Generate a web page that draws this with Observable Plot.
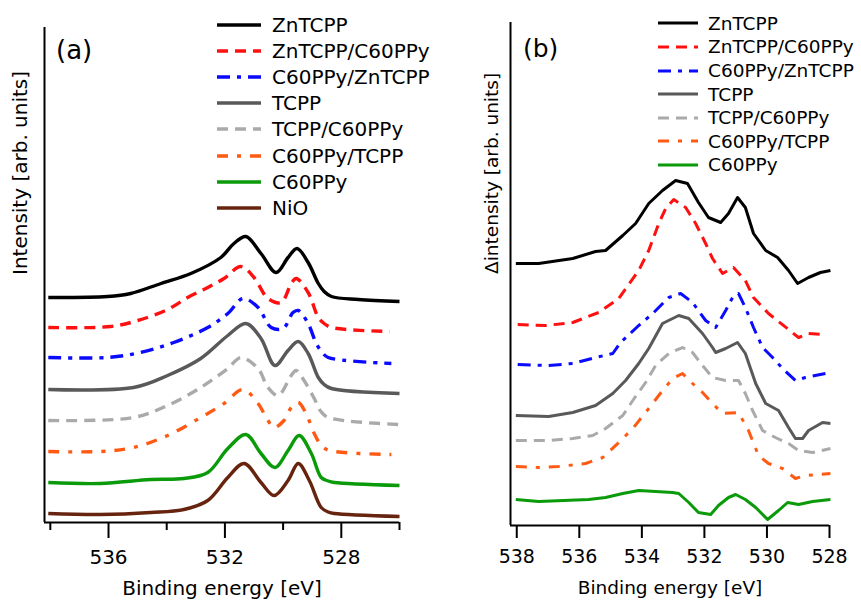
<!DOCTYPE html>
<html><head><meta charset="utf-8">
<script src="https://cdn.jsdelivr.net/npm/d3@7"></script>
<script src="https://cdn.jsdelivr.net/npm/@observablehq/plot@0.6"></script>
<style>
body{margin:0;background:#fff;font-family:"DejaVu Sans",Verdana,sans-serif;}
#wrap{position:relative;width:861px;height:600px;display:flex;overflow:hidden;}
.row{position:absolute;display:flex;align-items:center;white-space:nowrap;color:#000;}
.row svg{display:block;}
.lab{position:absolute;color:#000;}
</style></head><body><div id="wrap"></div><script>
// ---------- Panel (a): [binding energy eV, intensity arb.] ----------
const a_ZnTCPP = [[538.07,45.0],[536.03,45.2],[535.24,45.8],[534.2,47.8],[533.17,49.8],[532.14,53.0],[531.69,55.8],[531.28,57.2],[530.76,53.8],[530.24,50.0],[529.83,53.0],[529.52,54.8],[529.14,52.0],[528.79,47.8],[528.59,46.2],[528.34,45.2],[527.41,44.6],[526.0,44.2]];
const a_ZnTCPP_C60PPy = [[538.07,39.0],[535.93,39.2],[535.0,40.4],[533.97,42.6],[533.28,45.0],[532.59,47.0],[532.03,48.8],[531.45,51.2],[531.0,49.0],[530.52,44.8],[530.07,44.0],[529.72,47.8],[529.55,48.8],[529.14,46.0],[528.79,41.0],[528.59,39.8],[528.34,39.0],[526.34,38.2]];
const a_C60PPy_ZnTCPP = [[538.07,33.0],[536.03,33.0],[534.9,34.0],[533.76,36.0],[532.59,39.0],[531.9,41.8],[531.38,44.8],[530.86,43.0],[530.41,39.0],[530.0,38.8],[529.66,42.0],[529.48,42.4],[529.14,39.8],[528.86,35.8],[528.64,33.9],[528.45,33.0],[526.28,31.8]];
const a_TCPP = [[538.07,26.6],[535.14,27.0],[533.97,29.4],[532.83,32.8],[531.9,37.4],[531.28,39.8],[530.76,36.8],[530.28,31.4],[529.83,34.4],[529.48,36.2],[529.14,33.8],[528.79,29.0],[528.59,27.6],[528.34,26.8],[526.0,25.8]];
const a_TCPP_C60PPy = [[538.07,20.4],[535.14,21.0],[533.97,23.4],[532.83,27.0],[531.9,30.8],[531.45,33.0],[530.86,30.8],[530.52,27.0],[530.17,25.4],[529.72,29.4],[529.55,30.4],[529.28,28.4],[528.93,24.8],[528.7,22.2],[528.45,21.0],[526.0,19.6]];
const a_C60PPy_TCPP = [[538.07,14.2],[536.28,14.2],[535.14,15.0],[533.97,17.4],[532.83,21.0],[532.03,23.8],[531.38,26.6],[530.86,23.8],[530.52,20.4],[530.31,19.0],[529.97,20.4],[529.72,23.0],[529.48,24.0],[529.21,21.8],[528.93,17.8],[528.67,15.3],[528.41,14.4],[526.28,13.6]];
const a_C60PPy = [[538.07,8.0],[536.28,7.8],[534.55,8.6],[533.41,8.8],[532.59,10.0],[531.9,14.8],[531.28,17.6],[530.76,13.8],[530.28,11.0],[529.83,14.4],[529.45,17.4],[529.03,13.8],[528.69,9.0],[528.45,8.3],[528.24,8.0],[526.0,7.4]];
const a_NiO = [[538.07,1.8],[536.28,1.6],[534.55,2.0],[533.41,2.6],[532.59,4.4],[531.9,9.0],[531.34,11.8],[530.76,8.0],[530.31,5.4],[529.83,8.4],[529.48,11.8],[529.1,8.4],[528.69,3.0],[528.45,2.1],[528.24,1.8],[526.0,1.2]];

// ---------- Panel (b): [binding energy eV, Δintensity arb.] ----------
const b_ZnTCPP = [[538.03,52.4],[537.3,52.4],[536.21,53.4],[535.48,54.8],[535.16,55.0],[534.61,58.0],[534.2,60.4],[533.78,64.4],[533.34,67.0],[532.92,69.0],[532.54,68.4],[532.19,64.6],[531.87,61.6],[531.48,60.6],[531.23,62.4],[530.94,65.6],[530.69,63.6],[530.43,58.4],[530.04,55.0],[529.66,53.6],[529.31,51.0],[529.02,48.4],[528.67,49.6],[528.29,50.6],[527.97,51.0]];
const b_ZnTCPP_C60PPy = [[537.97,40.2],[537.07,40.0],[536.21,40.6],[535.38,42.6],[534.74,45.4],[534.1,51.0],[533.78,55.0],[533.46,60.4],[533.24,63.4],[532.98,65.2],[532.6,63.6],[532.28,60.4],[531.96,56.4],[531.74,53.4],[531.42,50.4],[531.07,51.6],[530.69,49.0],[530.43,45.6],[529.95,42.4],[529.31,39.2],[528.99,37.6],[528.67,38.4],[528.13,38.2]];
const b_C60PPy_ZnTCPP = [[537.97,32.2],[536.98,32.0],[536.21,32.4],[535.48,33.6],[534.93,34.4],[534.68,36.6],[534.1,40.0],[533.65,42.4],[533.14,45.6],[532.76,46.4],[532.38,44.6],[531.96,41.0],[531.64,39.6],[531.32,43.0],[531.1,45.6],[530.91,46.4],[530.69,43.6],[530.43,39.6],[530.14,35.6],[529.82,33.6],[529.5,31.4],[529.09,29.0],[528.77,29.6],[528.13,30.4]];
const b_TCPP = [[538.03,22.0],[536.98,21.8],[536.21,22.6],[535.48,24.0],[534.93,26.4],[534.52,29.0],[534.1,32.4],[533.78,35.4],[533.34,40.4],[532.82,42.0],[532.5,41.4],[532.06,38.4],[531.74,35.6],[531.64,34.6],[531.32,35.4],[530.94,36.6],[530.69,34.4],[530.36,28.4],[530.04,24.4],[529.63,23.0],[529.31,19.6],[529.09,17.4],[528.86,17.4],[528.67,19.0],[528.22,20.6],[527.97,20.4]];
const b_TCPP_C60PPy = [[538.03,17.0],[536.98,17.0],[536.21,17.4],[535.57,18.0],[535.16,19.4],[534.61,22.0],[534.29,25.0],[533.88,28.6],[533.56,32.0],[533.14,34.4],[532.7,35.6],[532.38,34.6],[532.06,32.0],[531.74,29.6],[531.32,29.0],[530.91,29.0],[530.69,26.4],[530.46,23.0],[530.14,19.0],[529.73,17.6],[529.31,16.4],[528.99,15.0],[528.54,14.6],[527.97,15.4]];
const b_C60PPy_TCPP = [[538.03,11.8],[537.3,11.6],[536.66,11.8],[535.8,12.4],[535.25,13.6],[534.74,16.6],[534.29,19.4],[533.88,22.6],[533.46,26.0],[533.02,29.4],[532.7,30.4],[532.38,28.4],[532.06,26.6],[531.74,24.4],[531.42,22.4],[530.91,22.6],[530.59,19.0],[530.27,14.0],[529.95,12.4],[529.5,11.4],[529.09,9.4],[528.77,10.0],[527.97,10.4]];
const b_C60PPy = [[538.03,5.2],[537.3,4.8],[535.7,5.2],[535.16,5.6],[534.61,6.4],[534.1,7.0],[533.56,6.8],[533.02,6.6],[532.82,6.4],[532.5,4.6],[532.19,2.6],[531.8,2.2],[531.55,4.0],[531.23,5.6],[531.0,6.2],[530.69,5.2],[530.36,3.6],[529.98,1.2],[529.63,3.0],[529.34,4.6],[528.99,4.2],[528.54,4.8],[527.97,5.2]];

// ---------- labels and ticks ----------
const namesA = ["ZnTCPP","ZnTCPP/C60PPy","C60PPy/ZnTCPP","TCPP","TCPP/C60PPy","C60PPy/TCPP","C60PPy","NiO"];
const namesB = ["ZnTCPP","ZnTCPP/C60PPy","C60PPy/ZnTCPP","TCPP","TCPP/C60PPy","C60PPy/TCPP","C60PPy"];
const seriesA = [a_ZnTCPP,a_ZnTCPP_C60PPy,a_C60PPy_ZnTCPP,a_TCPP,a_TCPP_C60PPy,a_C60PPy_TCPP,a_C60PPy,a_NiO];
const seriesB = [b_ZnTCPP,b_ZnTCPP_C60PPy,b_C60PPy_ZnTCPP,b_TCPP,b_TCPP_C60PPy,b_C60PPy_TCPP,b_C60PPy];
const ticksA_major = [536,532,528];
const ticksA_minor = [538,534,530,526];
const ticksB = [538,536,534,532,530,528];
const xLabel = "Binding energy [eV]";
const yLabelA = "Intensity [arb. units]";
const yLabelB = "\u0394intensity [arb. units]";

// styles (separate from data)
const style = {
  "ZnTCPP":        {c:"#000000", d:null},
  "ZnTCPP/C60PPy": {c:"#ff1010", d:"11,7"},
  "C60PPy/ZnTCPP": {c:"#0a0aff", d:"13,7,4,7"},
  "TCPP":          {c:"#595959", d:null},
  "TCPP/C60PPy":   {c:"#aaaaaa", d:"11,7"},
  "C60PPy/TCPP":   {c:"#ff5a14", d:"11,9,4,9"},
  "C60PPy":        {c:"#0a9a0a", d:null},
  "NiO":           {c:"#66240f", d:null}
};

function toRows(names, series){
  const rows = [];
  names.forEach((n,i)=>series[i].forEach(([e,v])=>rows.push({name:n,e,v})));
  return rows;
}

function panel(o){
  const rows = toRows(o.names, o.series);
  const marks = [];
  o.names.forEach(n=>{
    marks.push(Plot.line(rows.filter(r=>r.name===n), {x:"e", y:"v", stroke:style[n].c, strokeWidth:o.sw, strokeDasharray:style[n].d||undefined, curve:o.curve, strokeLinecap:"butt", strokeLinejoin:"round"}));
  });
  marks.push(Plot.ruleY([o.yDomain[0]], {stroke:"#000", strokeWidth:2}));
  marks.push(Plot.ruleX([o.xDomain[0]], {stroke:"#000", strokeWidth:2}));
  o.axes.forEach(a=>marks.push(Plot.axisX(a)));
  marks.push(Plot.text([xLabel], {frameAnchor:"bottom", dy:o.xLabelDy, fontSize:o.labelFs, text:d=>d, fill:"#000"}));
  marks.push(Plot.text([o.yLabel], {frameAnchor:"left", dx:-o.yLabelDx, rotate:-90, fontSize:o.labelFs, text:d=>d, fill:"#000"}));
  return Plot.plot({
    width:o.width, height:600,
    marginLeft:o.ml, marginRight:o.mr, marginTop:o.mt, marginBottom:o.mb,
    x:{domain:o.xDomain},
    y:{domain:o.yDomain, axis:null},
    style:{fontFamily:'"DejaVu Sans", Verdana, sans-serif', background:"#fff", color:"#000", overflow:"visible"},
    marks
  });
}

const wrap = document.getElementById("wrap");
const plotA = panel({
  names:namesA, series:seriesA, width:430, ml:44, mr:31, mt:27, mb:78, curve:"catmull-rom",
  xDomain:[538.2,526], yDomain:[0,99], sw:3.4, labelFs:20, xLabelDy:72, yLabel:yLabelA, yLabelDx:24,
  axes:[
    {ticks:ticksA_major, tickSize:16, tickPadding:11, strokeWidth:2, fontSize:20, label:null, tickFormat:d=>String(d)},
    {ticks:ticksA_minor, tickSize:8, strokeWidth:2, tickFormat:()=>"", label:null}
  ]
});
const plotB = panel({
  names:namesB, series:seriesB, width:431, ml:80, mr:32, mt:22, mb:75, curve:"linear",
  xDomain:[538.2,528], yDomain:[0,100.6], sw:3, labelFs:18.5, xLabelDy:68, yLabel:yLabelB, yLabelDx:18,
  axes:[
    {ticks:ticksB, tickSize:13, tickPadding:11, strokeWidth:2, fontSize:19, label:null, tickFormat:d=>String(d)}
  ]
});
wrap.appendChild(plotA);
wrap.appendChild(plotB);

function legend(names, x0, lineW, textGap, y0, step, fs, sw){
  names.forEach((n,i)=>{
    const row = document.createElement("div");
    row.className = "row";
    row.style.left = x0+"px";
    row.style.top = (y0 + i*step - 14)+"px";
    row.style.height = "28px";
    row.style.fontSize = fs+"px";
    const svg = d3.create("svg").attr("width", lineW).attr("height", 28);
    svg.append("line").attr("x1",0).attr("x2",lineW).attr("y1",14).attr("y2",14)
      .attr("stroke", style[n].c).attr("stroke-width", sw)
      .attr("stroke-dasharray", style[n].d);
    row.appendChild(svg.node());
    const t = document.createElement("span");
    t.textContent = n;
    t.style.marginLeft = textGap+"px";
    row.appendChild(t);
    wrap.appendChild(row);
  });
}
legend(namesA, 217, 44, 11, 24.5, 26.2, 20, 3.4);
legend(namesB, 658, 40, 10, 23.3, 23.6, 18.5, 3);

function panelLabel(txt, x, y, fs){
  const d = document.createElement("div");
  d.className = "lab"; d.textContent = txt;
  d.style.left = x+"px"; d.style.top = y+"px"; d.style.fontSize = fs+"px"; d.style.lineHeight = "1";
  wrap.appendChild(d);
}
panelLabel("(a)", 56, 37, 26);
panelLabel("(b)", 523, 36, 25);
</script></body></html>
